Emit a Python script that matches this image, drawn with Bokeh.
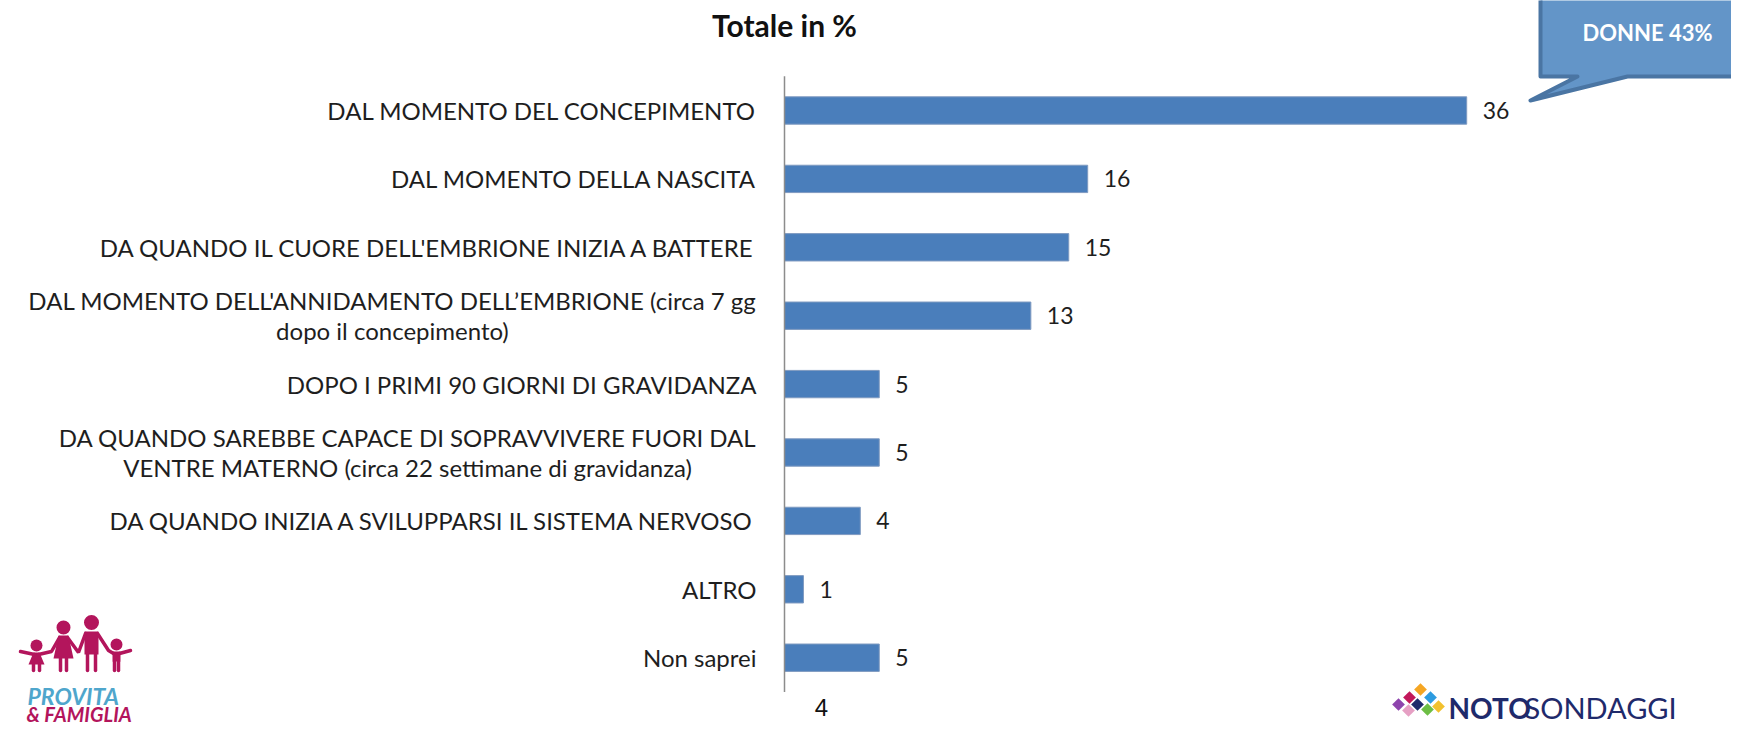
from bokeh.plotting import figure
from bokeh.models import Range1d, ColumnDataSource
from bokeh.core.properties import value
from bokeh.embed import file_html
from bokeh.resources import INLINE

# ---------------- data ----------------
categories = [
    "DAL MOMENTO DEL CONCEPIMENTO",
    "DAL MOMENTO DELLA NASCITA",
    "DA QUANDO IL CUORE DELL'EMBRIONE INIZIA A BATTERE",
    "DAL MOMENTO DELL'ANNIDAMENTO DELL\u2019EMBRIONE (circa 7 gg\ndopo il concepimento)",
    "DOPO I PRIMI 90 GIORNI DI GRAVIDANZA",
    "DA QUANDO SAREBBE CAPACE DI SOPRAVVIVERE FUORI DAL\nVENTRE MATERNO (circa 22 settimane di gravidanza)",
    "DA QUANDO INIZIA A SVILUPPARSI IL SISTEMA NERVOSO",
    "ALTRO",
    "Non saprei",
]
values = [36, 16, 15, 13, 5, 5, 4, 1, 5]
title_text = "Totale in %"
callout_text = "DONNE 43%"
page_number = "4"

# ---------------- geometry ----------------
W, H = 1731, 725
AXIS_PX = 784.0        # pixel position of the value 0 axis
PX_PER_UNIT = 18.95    # pixels per percentage point
FIRST_ROW_PX = 110.0   # pixel centre of first category
ROW_PX = 68.4          # pixels per category

x_start = -AXIS_PX / PX_PER_UNIT
x_end = x_start + W / PX_PER_UNIT
y_top = -FIRST_ROW_PX / ROW_PX
y_bottom = y_top + H / ROW_PX


def px(fx, fy):
    """Convert canvas pixels to data coordinates (for decorations only)."""
    return x_start + fx / PX_PER_UNIT, y_top + fy / ROW_PX


def pxs(pts):
    xs, ys = zip(*[px(a, b) for a, b in pts])
    return list(xs), list(ys)


FONT = value("Lato")
TXT = "#1E1E1E"

p = figure(width=W, height=H, x_range=Range1d(x_start, x_end),
           y_range=Range1d(y_bottom, y_top), x_axis_type=None, y_axis_type=None,
           toolbar_location=None, output_backend="svg", min_border=0)
p.outline_line_color = None
p.grid.visible = False
p.background_fill_color = "white"

pos = list(range(len(categories)))
src = ColumnDataSource(dict(pos=pos, val=values, cat=categories,
                            lbl=[str(v) for v in values]))

# bars
p.hbar(y="pos", left=0, right="val", height=0.4, source=src,
       fill_color="#4A7EBB", line_color="#7F9AC0", line_width=1)

# axis line
p.segment(x0=[0], y0=[-0.5], x1=[0], y1=[len(categories) - 0.5],
          line_color="#8C8C8C", line_width=1.5)

# value labels
p.text(x="val", y="pos", text="lbl", source=src, x_offset=16,
       text_align="left", text_baseline="middle", text_font=FONT,
       text_font_size="23px", text_color=TXT)

# category labels
p.text(x=0, y="pos", text="cat", source=src, x_offset=-28,
       anchor=value("center_right"), text_align="center",
       text_baseline="middle", text_font=FONT, text_font_size="24px",
       text_color=TXT, text_line_height=1.02)

# title
tx, ty = px(784, 24)
p.text(x=[tx], y=[ty], text=[title_text], text_align="center",
       text_baseline="middle", text_font=FONT, text_font_style="bold",
       text_font_size="30px", text_color="#111111")

# callout
cx, cy = pxs([(1540, -20), (1540, 76), (1577, 76), (1530, 100), (1627, 76),
              (1760, 76), (1760, -20)])
p.patch(cx, cy, fill_color="#6395C8", line_color="#4A75A3", line_width=4,
        line_join="round")
tx, ty = px(1647, 32)
p.text(x=[tx], y=[ty], text=[callout_text], text_align="center",
       text_baseline="middle", text_font=FONT, text_font_style="bold",
       text_font_size="22px", text_color="white")

# page number
tx, ty = px(821, 698)
p.text(x=[tx], y=[ty], text=[page_number], text_align="center",
       text_baseline="top", text_font=value("Liberation Sans"),
       text_font_size="24px", text_color="#111111")

# ---- Provita & Famiglia logo (simplified) ----
MAG = "#B3155C"
DY = -8
heads = [(36, 653, 6), (63, 635, 7), (91, 630, 7.5), (116, 652, 6)]
for hx, hy, r in heads:
    a, b = px(hx, hy + DY)
    p.scatter(x=[a], y=[b], size=2 * r, marker="circle", fill_color=MAG,
              line_color=None)
bodies = [
    [(33, 660), (39, 660), (44, 672), (28, 672)],
    [(58, 643), (68, 643), (73, 666), (53, 666)],
    [(84, 639), (98, 639), (98, 662), (84, 662)],
    [(112, 659), (120, 659), (120, 669), (112, 669)],
]
for b in bodies:
    bx, by = pxs([(u, v + DY) for u, v in b])
    p.patch(bx, by, fill_color=MAG, line_color=None)
limbs = [
    [(20, 659), (34, 662)], [(38, 662), (51, 659), (59, 645)],
    [(67, 645), (78, 660), (85, 641)], [(97, 641), (108, 658), (113, 661)],
    [(119, 661), (130, 658)],
    [(33, 672), (33, 678)], [(39, 672), (39, 678)],
    [(60, 666), (60, 678)], [(66, 666), (66, 678)],
    [(87, 662), (87, 678)], [(95, 662), (95, 678)],
    [(114, 669), (114, 678)], [(118, 669), (118, 678)],
]
for l in limbs:
    lx, ly = pxs([(u, v + DY) for u, v in l])
    p.line(lx, ly, line_color=MAG, line_width=3.5, line_cap="round")
tx, ty = px(27, 695)
p.text(x=[tx], y=[ty], text=["PROVITA"], text_align="left",
       text_baseline="alphabetic", text_font=FONT,
       text_font_style="bold italic", text_font_size="23px",
       text_color="#4FA6CC")
tx, ty = px(26, 713)
p.text(x=[tx], y=[ty], text=["& FAMIGLIA"], text_align="left",
       text_baseline="alphabetic", text_font=FONT,
       text_font_style="bold italic", text_font_size="20px", text_color=MAG)

# ---- NOTO SONDAGGI logo (simplified) ----
dia = [(1420, 689, "#F5A623"), (1430, 697, "#2D9BE0"), (1409, 697, "#C2185B"),
       (1417, 704, "#1F2A6B"), (1398, 704, "#8E44AD"), (1438, 706, "#F2C12E"),
       (1408, 710, "#E6A0C4"), (1427, 709, "#6DBE45")]
for dx, dy, col in dia:
    a, b = px(dx, dy)
    p.scatter(x=[a], y=[b], marker="square", size=9, angle=0.785,
              fill_color=col, line_color=None)
tx, ty = px(1448, 707)
p.text(x=[tx], y=[ty], text=["NOTO"], text_align="left",
       text_baseline="alphabetic", text_font=FONT, text_font_style="bold",
       text_font_size="28px", text_color="#1F2A6B")
tx, ty = px(1524, 707)
p.text(x=[tx], y=[ty], text=["SONDAGGI"], text_align="left",
       text_baseline="alphabetic", text_font=FONT, text_font_size="29px",
       text_color="#1F2A6B")

open("out.html", "w").write(file_html(p, INLINE))
